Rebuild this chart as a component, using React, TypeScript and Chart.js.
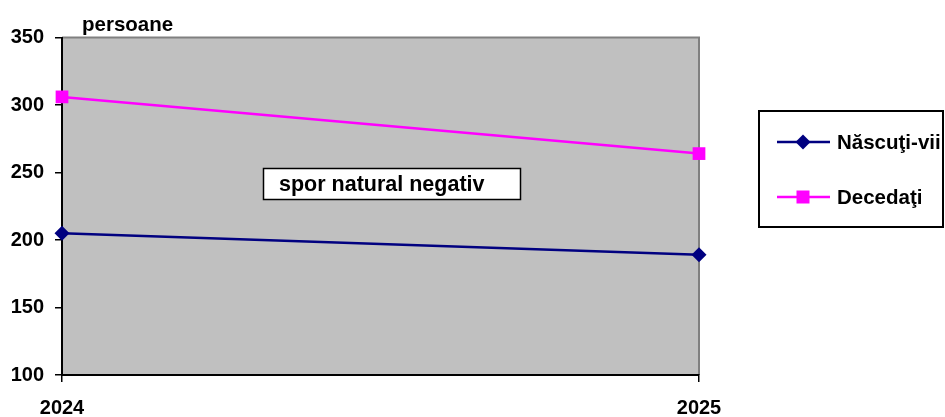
import React, { useEffect, useRef } from "react";
import { Chart, registerables } from "chart.js";

Chart.register(...registerables);

const categories = ["2024", "2025"];
const nascutiVii = [205, 189];
const decedati = [306, 264];
const yMin = 100;
const yMax = 350;
const yStep = 50;
const seriesNames = ["Născuţi-vii", "Decedaţi"];
const seriesColors = ["#000080", "#FF00FF"];
const seriesMarkers = ["rectRot", "rect"];
const annotationText = "spor natural negativ";
const unitLabel = "persoane";

const FONT_FAMILY = '"Liberation Sans", Arial, sans-serif';

function drawMarker(ctx: CanvasRenderingContext2D, style: string, x: number, y: number, color: string) {
  ctx.save();
  ctx.fillStyle = color;
  ctx.beginPath();
  if (style === "rectRot") {
    const r = 7.5;
    ctx.moveTo(x - r, y);
    ctx.lineTo(x, y - r);
    ctx.lineTo(x + r, y);
    ctx.lineTo(x, y + r);
    ctx.closePath();
  } else {
    const s = 6.5;
    ctx.rect(x - s, y - s, 2 * s, 2 * s);
  }
  ctx.fill();
  ctx.restore();
}

const decorPlugin = {
  id: "decor",
  beforeDraw(chart: any) {
    const { ctx, chartArea } = chart;
    const { left, top, right, bottom } = chartArea;
    ctx.save();
    ctx.fillStyle = "#C0C0C0";
    ctx.fillRect(left, top, right - left, bottom - top);
    ctx.strokeStyle = "#808080";
    ctx.lineWidth = 2;
    ctx.beginPath();
    ctx.moveTo(left, top);
    ctx.lineTo(right, top);
    ctx.lineTo(right, bottom);
    ctx.stroke();
    ctx.restore();
  },
  afterDraw(chart: any) {
    const { ctx } = chart;
    ctx.save();
    ctx.fillStyle = "#000";
    ctx.textAlign = "left";
    ctx.textBaseline = "middle";
    ctx.font = `bold 20.5px ${FONT_FAMILY}`;
    ctx.fillText(unitLabel, 82, 25);

    // annotation box
    ctx.fillStyle = "#FFFFFF";
    ctx.fillRect(263, 168, 258, 32);
    ctx.strokeStyle = "#000";
    ctx.lineWidth = 1.5;
    ctx.strokeRect(263.5, 168.5, 257, 31);
    ctx.fillStyle = "#000";
    ctx.font = `bold 21.5px ${FONT_FAMILY}`;
    ctx.fillText(annotationText, 279, 185);

    // legend
    ctx.fillStyle = "#FFFFFF";
    ctx.fillRect(758, 110, 186, 118);
    ctx.strokeStyle = "#000";
    ctx.lineWidth = 2;
    ctx.strokeRect(759, 111, 184, 116);
    const rowY = [142, 197];
    chart.data.datasets.forEach((ds: any, i: number) => {
      const y = rowY[i];
      ctx.strokeStyle = ds.borderColor;
      ctx.lineWidth = 2.5;
      ctx.beginPath();
      ctx.moveTo(777, y);
      ctx.lineTo(830, y);
      ctx.stroke();
      drawMarker(ctx, ds.pointStyle, 803, y, ds.borderColor);
      ctx.fillStyle = "#000";
      ctx.font = `bold 20.5px ${FONT_FAMILY}`;
      ctx.fillText(ds.label, 837, y + 1);
    });
    ctx.restore();
  },
};

export default function App() {
  const canvasRef = useRef<HTMLCanvasElement | null>(null);

  useEffect(() => {
    if (!canvasRef.current) return;
    const chart = new Chart(canvasRef.current, {
      type: "line",
      data: {
        labels: categories,
        datasets: [
          {
            label: seriesNames[0],
            data: nascutiVii,
            borderColor: seriesColors[0],
            backgroundColor: seriesColors[0],
            borderWidth: 2.5,
            pointStyle: seriesMarkers[0] as any,
            pointRadius: 7.5,
            pointBorderWidth: 0,
            tension: 0,
            fill: false,
            clip: false as any,
          },
          {
            label: seriesNames[1],
            data: decedati,
            borderColor: seriesColors[1],
            backgroundColor: seriesColors[1],
            borderWidth: 2.5,
            pointStyle: seriesMarkers[1] as any,
            pointRadius: 9,
            pointBorderWidth: 0,
            tension: 0,
            fill: false,
            clip: false as any,
          },
        ],
      },
      options: {
        responsive: false,
        animation: false,
        devicePixelRatio: 1,
        layout: { padding: { top: 37.5, right: 246, left: 0, bottom: 0 } },
        plugins: {
          legend: { display: false },
          tooltip: { enabled: false },
          title: { display: false },
        },
        scales: {
          x: {
            type: "category",
            offset: false,
            grid: {
              drawOnChartArea: false,
              drawTicks: true,
              tickLength: 7,
              color: "#000",
              lineWidth: 1.5,
            },
            border: { color: "#000", width: 2 },
            ticks: {
              color: "#000",
              font: { family: FONT_FAMILY, size: 20, weight: "bold" },
              padding: 14,
              maxRotation: 0,
              autoSkip: false,
            },
            afterFit(scale: any) {
              scale.height = 42;
              scale.paddingLeft = 0;
              scale.paddingRight = 0;
            },
          },
          y: {
            type: "linear",
            min: yMin,
            max: yMax,
            grid: {
              drawOnChartArea: false,
              drawTicks: true,
              tickLength: 7,
              color: "#000",
              lineWidth: 1.5,
            },
            border: { color: "#000", width: 2 },
            ticks: {
              stepSize: yStep,
              color: "#000",
              font: { family: FONT_FAMILY, size: 20, weight: "bold" },
              padding: 11,
            },
            afterFit(scale: any) {
              scale.width = 62;
              scale.paddingTop = 0;
              scale.paddingBottom = 0;
            },
          },
        },
      },
      plugins: [decorPlugin],
    });
    return () => chart.destroy();
  }, []);

  return (
    <div style={{ position: "fixed", left: 0, top: 0, width: 945, height: 417, background: "#fff" }}>
      <canvas ref={canvasRef} width={945} height={417} style={{ width: 945, height: 417, display: "block" }} />
    </div>
  );
}
